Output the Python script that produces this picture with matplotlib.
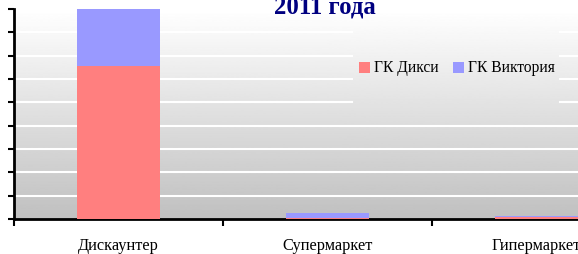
import numpy as np
import matplotlib.pyplot as plt

# Данные (оценка по рисунку)
categories = ['Дискаунтер', 'Супермаркет', 'Гипермаркет']
diksi = [65.7, 0.4, 0.7]
viktoria = [24.3, 2.3, 0.6]
series_names = ['ГК Дикси', 'ГК Виктория']

plt.rcParams['font.family'] = ['Liberation Serif', 'DejaVu Serif']

fig = plt.figure(figsize=(5.78, 2.54), dpi=100)
# ось выходит за правый край (рисунок обрезан)
ax = fig.add_axes([14 / 578, 35 / 254, 627 / 578, 210 / 254])

# градиентный фон
grad = np.linspace(192, 255, 256).reshape(-1, 1) / 255.0
ax.imshow(grad, cmap='gray', vmin=0, vmax=1, aspect='auto',
          extent=[0, 1, 0, 1], transform=ax.transAxes, origin='lower', zorder=0)

x = np.arange(len(categories)) + 0.5
ax.bar(x, diksi, width=0.40, color='#ff7f7f', zorder=3, label=series_names[0])
ax.bar(x, viktoria, width=0.40, bottom=diksi, color='#9999ff', zorder=3,
       label=series_names[1])

ax.set_xlim(0, 3)
ax.set_ylim(0, 90)

# белые линии сетки, разорванные за легендой
for yv in range(10, 90, 10):
    if yv >= 50:
        ax.axhline(yv, xmin=0, xmax=(352 - 14) / 627, color='white', lw=1.5, zorder=1)
        ax.axhline(yv, xmin=(560 - 14) / 627, xmax=1, color='white', lw=1.5, zorder=1)
    else:
        ax.axhline(yv, color='white', lw=1.5, zorder=1)

ax.set_yticks(range(0, 91, 10))
ax.set_yticklabels([])
ax.tick_params(axis='y', direction='out', length=4, width=1.5)

ax.set_xticks([0, 1, 2, 3])
ax.set_xticklabels([])
ax.set_xticks(x, minor=True)
ax.set_xticklabels(categories, minor=True, fontsize=11.8)
ax.tick_params(axis='x', which='major', direction='out', length=5, width=1.5)
ax.tick_params(axis='x', which='minor', length=0, pad=14)

for s in ['top', 'right']:
    ax.spines[s].set_visible(False)
for s in ['left', 'bottom']:
    ax.spines[s].set_linewidth(2)

ax.legend(loc='center', bbox_to_anchor=(457 / 578, 1 - 68.5 / 254),
          bbox_transform=fig.transFigure, ncol=2, frameon=False,
          fontsize=11.2, handlelength=0.7, handleheight=0.7,
          handletextpad=0.3, columnspacing=0.9)

fig.text(325 / 578, 1 - 13 / 254, '2011 года', ha='center', va='baseline',
         fontsize=17.8, fontweight='bold', color='#000080')

fig.savefig('out.png', dpi=100)
